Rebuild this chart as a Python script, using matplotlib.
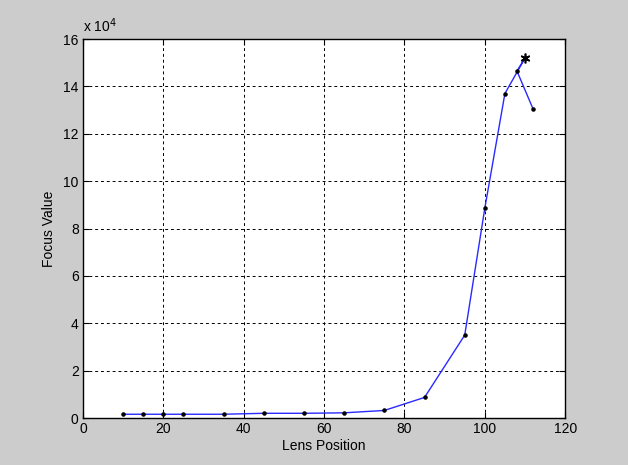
import matplotlib
matplotlib.use("Agg")
import matplotlib.pyplot as plt
from matplotlib.ticker import FuncFormatter

# lens positions in the order the search visited them
lens_pos = [10, 15, 20, 25, 35, 45, 55, 65, 75, 85, 95, 100, 105, 110, 108, 112]
focus_val = [1600, 1600, 1600, 1600, 1600, 2000, 2000, 2200, 3200, 8700,
             35000, 88600, 137000, 152000, 146500, 130500]

# best focus found
peak_pos = [110]
peak_val = [152000]

x_ticks = [0, 20, 40, 60, 80, 100, 120]
y_ticks = [0, 20000, 40000, 60000, 80000, 100000, 120000, 140000, 160000]

plt.rcParams["font.family"] = ["Liberation Sans", "DejaVu Sans"]

fig = plt.figure(figsize=(6.28, 4.65), dpi=100, facecolor="#cccccc")
ax = fig.add_axes([0.132, 0.101, 0.768, 0.815])
ax.set_facecolor("white")

ax.plot(lens_pos, focus_val, color="#2a2aff", lw=1.0, marker=".",
        markersize=4.5, markerfacecolor="black", markeredgecolor="black", zorder=3)
ax.plot(peak_pos, peak_val, linestyle="none", marker=(6, 2, 0), markersize=7,
        markeredgewidth=1.2, color="black", zorder=4)

ax.set_xlim(0, 120)
ax.set_ylim(0, 160000)
ax.set_xticks(x_ticks)
ax.set_yticks(y_ticks)
ax.yaxis.set_major_formatter(FuncFormatter(lambda v, p: f"{v / 1e4:g}"))

ax.grid(True, color="black", linestyle=(0, (3, 3)), linewidth=0.7)
ax.tick_params(direction="in", length=4, top=True, right=True,
               labelsize=10, colors="black", pad=3)
for s in ax.spines.values():
    s.set_linewidth(1.0)

ax.text(0.0, 1.012, r"x 10$^{4}$", transform=ax.transAxes,
        ha="left", va="bottom", fontsize=10)

ax.set_xlabel("Lens Position", fontsize=10, labelpad=2)
ax.set_ylabel("Focus Value", fontsize=10, labelpad=5)

fig.savefig("out.png", dpi=100, facecolor=fig.get_facecolor())
